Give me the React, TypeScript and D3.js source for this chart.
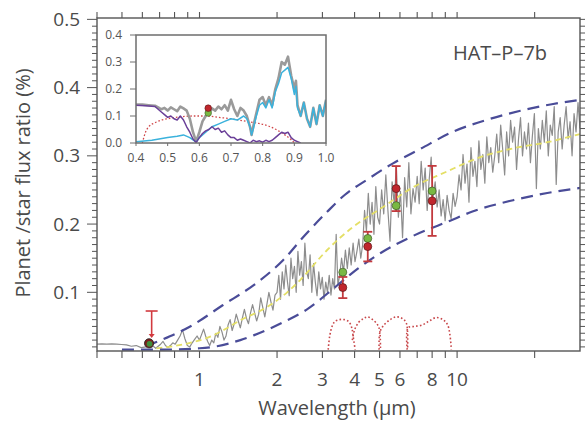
import React from "react";
import * as d3 from "d3";

const W = 587;
const H = 429;

// ---------- model emission spectrum (planet/star flux ratio, %) ----------
// Each band is sampled on a uniform log-wavelength grid between its limits.
const specVisRange = [0.4, 0.62];
const specVis = [0.024, 0.0245, 0.024, 0.0245, 0.024, 0.0235, 0.023, 0.021, 0.022, 0.019];

const specRedRange = [0.62, 1.0];
const specRed = [0.02, 0.022, 0.019, 0.021, 0.018, 0.021, 0.024, 0.028, 0.022, 0.019, 0.022,
  0.026, 0.024, 0.03, 0.036, 0.045, 0.032, 0.022, 0.02, 0.026, 0.031, 0.036];

const specNirRange = [1.0, 2.0];
const specNir = [0.03, 0.038, 0.046, 0.036, 0.028, 0.022, 0.03, 0.026, 0.04, 0.034, 0.05, 0.042,
  0.03, 0.036, 0.052, 0.06, 0.044, 0.054, 0.068, 0.058, 0.048, 0.062, 0.075, 0.062, 0.054, 0.07,
  0.082, 0.07, 0.058, 0.068, 0.092, 0.078, 0.064, 0.082, 0.1, 0.086, 0.074, 0.096];

const specKRange = [2.0, 3.5];
const specK = [0.1, 0.125, 0.09, 0.13, 0.105, 0.14, 0.115, 0.095, 0.15, 0.12, 0.138, 0.1, 0.16,
  0.125, 0.145, 0.11, 0.172, 0.13, 0.12, 0.155, 0.1, 0.142, 0.115, 0.095, 0.13, 0.105, 0.122,
  0.09, 0.115, 0.1, 0.125, 0.096, 0.12, 0.105, 0.185, 0.11];

const specLRange = [3.5, 4.3];
const specL = [0.125, 0.15, 0.13, 0.162, 0.135, 0.165, 0.14, 0.172, 0.145, 0.16, 0.178, 0.15];

const specMRange = [4.3, 5.0];
const specM = [0.17, 0.22, 0.19, 0.245, 0.2, 0.232, 0.185, 0.255, 0.21];

const specMidRange = [5.0, 7.0];
const specMid = [0.2, 0.25, 0.215, 0.272, 0.22, 0.175, 0.262, 0.23, 0.285, 0.21, 0.248, 0.18,
  0.268, 0.225, 0.29, 0.215, 0.252, 0.232];

const specNRange = [7.0, 10.0];
const specN = [0.27, 0.23, 0.292, 0.25, 0.282, 0.22, 0.265, 0.298, 0.24, 0.262, 0.225, 0.25,
  0.212, 0.236, 0.205, 0.242, 0.22, 0.208, 0.245, 0.226];

const specFarRange = [10.0, 14.0];
const specFar = [0.24, 0.272, 0.25, 0.302, 0.26, 0.288, 0.232, 0.312, 0.27, 0.292, 0.255, 0.322,
  0.28, 0.302, 0.26, 0.328, 0.29, 0.312, 0.276];

const specTailRange = [14.0, 30.0];
const specTail = [0.3, 0.332, 0.29, 0.345, 0.31, 0.272, 0.335, 0.3, 0.352, 0.32, 0.342, 0.28,
  0.325, 0.356, 0.3, 0.335, 0.31, 0.348, 0.29, 0.33, 0.362, 0.252, 0.34, 0.31, 0.352, 0.32,
  0.366, 0.3, 0.345, 0.33, 0.372, 0.258, 0.335, 0.356, 0.31, 0.345, 0.372, 0.325, 0.35, 0.3,
  0.362, 0.335, 0.378, 0.34];

// ---------- blackbody and bounding models ----------
const blackbody = [[0.68, 0.018], [0.92, 0.026], [1.1, 0.035], [1.23, 0.044], [1.44, 0.059],
  [1.83, 0.0785], [2.19, 0.1], [2.46, 0.118], [3.13, 0.162], [3.95, 0.196], [5.16, 0.225],
  [6.75, 0.254], [9.0, 0.276], [12.3, 0.298], [16.5, 0.311], [22.4, 0.32], [30, 0.332]];

const upperModel = [[0.62, 0.021], [0.72, 0.031], [0.92, 0.05], [1.23, 0.081], [1.67, 0.114],
  [2.11, 0.147], [2.57, 0.184], [3.13, 0.218], [3.67, 0.243], [4.47, 0.265], [5.64, 0.289],
  [7.18, 0.31], [9.6, 0.335], [13.1, 0.353], [17.6, 0.366], [23.6, 0.376], [30, 0.382]];

const lowerModel = [[0.5, 0.016], [0.7, 0.016], [1.0, 0.018], [1.17, 0.021], [1.44, 0.03],
  [1.83, 0.045], [2.11, 0.056], [2.64, 0.076], [3.42, 0.11], [4.13, 0.135], [5.07, 0.158],
  [6.69, 0.182], [9.4, 0.205], [11.4, 0.218], [16.5, 0.235], [22.4, 0.2455], [30, 0.253]];

// ---------- IRAC channel response (drawn in flux-ratio units) ----------
const irac1 = [[3.16, 0.016], [3.2, 0.035], [3.27, 0.05], [3.35, 0.057], [3.5, 0.06], [3.65, 0.06],
  [3.8, 0.057], [3.9, 0.048], [3.95, 0.035], [4.02, 0.016]];
const irac2 = [[3.92, 0.03], [4.0, 0.045], [4.15, 0.056], [4.35, 0.062], [4.5, 0.064], [4.7, 0.06],
  [4.9, 0.053], [5.0, 0.045], [5.04, 0.016]];
const irac3 = [[4.98, 0.016], [5.02, 0.042], [5.2, 0.052], [5.5, 0.06], [5.8, 0.064], [6.1, 0.062],
  [6.35, 0.055], [6.42, 0.016]];
const irac4 = [[6.4, 0.016], [6.45, 0.048], [6.8, 0.05], [7.3, 0.052], [7.8, 0.058], [8.3, 0.063],
  [8.8, 0.06], [9.2, 0.052], [9.5, 0.016]];

// ---------- measurements ----------
const obsWave = [3.6, 4.5, 5.8, 8.0];
const obsValue = [0.107, 0.167, 0.252, 0.234];
const obsError = [0.0155, 0.0217, 0.033, 0.0513];
const modelValue = [0.1295, 0.179, 0.227, 0.2485];

const keplerWave = 0.637;
const keplerValue = 0.0253;
const limitWave = 0.652;
const limitValue = 0.0726;
const limitArrowTip = 0.033;

// ---------- inset (optical detail) ----------
const insetTotal = [[0.40, 0.142], [0.42, 0.142], [0.44, 0.14], [0.46, 0.138], [0.47, 0.132],
  [0.48, 0.125], [0.49, 0.13], [0.50, 0.12], [0.51, 0.132], [0.52, 0.125], [0.53, 0.118],
  [0.54, 0.135], [0.55, 0.128], [0.56, 0.12], [0.57, 0.09], [0.58, 0.04], [0.59, 0.005],
  [0.60, 0.04], [0.61, 0.08], [0.62, 0.1], [0.63, 0.11], [0.64, 0.128], [0.65, 0.12],
  [0.66, 0.135], [0.67, 0.125], [0.68, 0.14], [0.69, 0.12], [0.70, 0.16], [0.71, 0.125],
  [0.72, 0.1], [0.73, 0.13], [0.74, 0.12], [0.75, 0.1], [0.76, 0.06], [0.765, 0.03], [0.77, 0.06],
  [0.78, 0.11], [0.79, 0.16], [0.80, 0.17], [0.81, 0.14], [0.82, 0.17], [0.83, 0.14], [0.84, 0.2],
  [0.85, 0.24], [0.86, 0.3], [0.87, 0.29], [0.88, 0.32], [0.89, 0.25], [0.90, 0.2], [0.905, 0.23],
  [0.91, 0.14], [0.92, 0.1], [0.93, 0.15], [0.94, 0.09], [0.95, 0.06], [0.96, 0.13], [0.97, 0.07],
  [0.98, 0.14], [0.99, 0.1], [1.0, 0.16]];

const insetThermal = [[0.40, 0.005], [0.45, 0.01], [0.5, 0.02], [0.53, 0.025], [0.55, 0.03],
  [0.57, 0.02], [0.59, 0.003], [0.6, 0.02], [0.62, 0.04], [0.64, 0.06], [0.66, 0.07], [0.68, 0.08],
  [0.7, 0.09], [0.72, 0.085], [0.74, 0.1], [0.75, 0.09], [0.76, 0.06], [0.765, 0.03], [0.77, 0.05],
  [0.78, 0.1], [0.79, 0.14], [0.80, 0.15], [0.81, 0.13], [0.82, 0.16], [0.83, 0.13], [0.84, 0.19],
  [0.85, 0.22], [0.86, 0.26], [0.87, 0.27], [0.88, 0.28], [0.89, 0.24], [0.90, 0.18], [0.905, 0.21],
  [0.91, 0.13], [0.92, 0.1], [0.93, 0.15], [0.94, 0.09], [0.95, 0.06], [0.96, 0.13], [0.97, 0.07],
  [0.98, 0.14], [0.99, 0.1], [1.0, 0.16]];

const insetReflected = [[0.40, 0.14], [0.43, 0.138], [0.46, 0.135], [0.47, 0.125], [0.48, 0.115],
  [0.49, 0.105], [0.5, 0.095], [0.51, 0.1], [0.52, 0.09], [0.53, 0.085], [0.54, 0.1], [0.55, 0.085],
  [0.56, 0.06], [0.57, 0.04], [0.58, 0.015], [0.59, 0.002], [0.6, 0.02], [0.61, 0.035], [0.62, 0.045],
  [0.63, 0.05], [0.64, 0.06], [0.65, 0.05], [0.66, 0.055], [0.67, 0.04], [0.68, 0.045], [0.69, 0.03],
  [0.7, 0.02], [0.71, 0.02], [0.72, 0.01], [0.73, 0.015], [0.74, 0.01], [0.75, 0.005], [0.76, 0.0],
  [0.77, 0.01], [0.78, 0.005], [0.79, 0.008], [0.8, 0.003], [0.81, 0.01], [0.82, 0.005], [0.83, 0.01],
  [0.84, 0.02], [0.85, 0.03], [0.86, 0.04], [0.87, 0.035], [0.88, 0.04], [0.89, 0.02], [0.9, 0.01],
  [0.91, 0.005], [0.92, 0.0]];

const insetKeplerBand = [[0.42, 0.0], [0.43, 0.04], [0.44, 0.06], [0.46, 0.075], [0.48, 0.085],
  [0.5, 0.09], [0.54, 0.097], [0.58, 0.1], [0.62, 0.1], [0.66, 0.095], [0.7, 0.09], [0.74, 0.082],
  [0.78, 0.074], [0.82, 0.062], [0.85, 0.045], [0.87, 0.03], [0.89, 0.012], [0.9, 0.0]];

const insetPointWave = 0.628;
const insetObs = 0.129;
const insetModel = 0.111;

const xTickValues = [0.4, 0.5, 0.6, 0.7, 0.8, 0.9, 1, 2, 3, 4, 5, 6, 7, 8, 9, 10, 20];
const xTickLabels = [1, 2, 3, 4, 5, 6, 8, 10];
const yTickLabels = [0.1, 0.2, 0.3, 0.4, 0.5];
const insetXTicks = [0.4, 0.5, 0.6, 0.7, 0.8, 0.9, 1.0];
const insetYTicks = [0.0, 0.1, 0.2, 0.3, 0.4];

type P = [number, number];

function gridBand(range: number[], values: number[], inclusive: boolean): P[] {
  const [a, b] = range;
  const n = inclusive ? values.length - 1 : values.length;
  return values.map((v, i) => [a * Math.pow(b / a, i / n), v] as P);
}

const FONT = "'Open Sans', 'DejaVu Sans', sans-serif";
const INK = "#4a4a4a";

export default function App() {
  const left = 97, right = 580, top = 18, bottom = 351;
  const x = d3.scaleLog().domain([0.4, 30]).range([left, right]);
  const y = d3.scaleLinear().domain([0.014, 0.502]).range([bottom, top]);

  const spectrum: P[] = [
    ...gridBand(specVisRange, specVis, false),
    ...gridBand(specRedRange, specRed, false),
    ...gridBand(specNirRange, specNir, false),
    ...gridBand(specKRange, specK, false),
    ...gridBand(specLRange, specL, false),
    ...gridBand(specMRange, specM, false),
    ...gridBand(specMidRange, specMid, false),
    ...gridBand(specNRange, specN, false),
    ...gridBand(specFarRange, specFar, false),
    ...gridBand(specTailRange, specTail, true),
  ];

  const straight = d3.line<P>().x((d) => x(d[0])).y((d) => y(d[1]));
  const smooth = d3.line<P>().x((d) => x(d[0])).y((d) => y(d[1])).curve(d3.curveMonotoneX);
  const band = d3.line<P>().x((d) => x(d[0])).y((d) => y(d[1])).curve(d3.curveCatmullRom);

  // inset scales
  const iL = 136, iR = 326, iT = 35, iB = 143;
  const ix = d3.scaleLinear().domain([0.4, 1.0]).range([iL, iR]);
  const iy = d3.scaleLinear().domain([0, 0.4]).range([iB, iT]);
  const iline = d3.line<P>().x((d) => ix(d[0])).y((d) => iy(d[1]));
  const ibandLine = d3.line<P>().x((d) => ix(d[0])).y((d) => iy(d[1])).curve(d3.curveMonotoneX);

  const minorY = d3.range(2, 51).map((i) => i / 100);

  const red = "#c0262d";
  const green = "#79b843";
  const blue = "#4a4c98";

  return (
    <svg
      width={W}
      height={H}
      viewBox={`0 0 ${W} ${H}`}
      style={{ position: "fixed", left: 0, top: 0, background: "#fff" }}
      fontFamily={FONT}
    >
      <defs>
        <clipPath id="plotArea">
          <rect x={left} y={top} width={right - left} height={bottom - top} />
        </clipPath>
        <clipPath id="insetArea">
          <rect x={iL} y={iT} width={iR - iL} height={iB - iT} />
        </clipPath>
      </defs>
      <rect x={0} y={0} width={W} height={H} fill="#fff" />

      <g clipPath="url(#plotArea)">
        {/* model spectrum */}
        <path d={straight(spectrum) || ""} fill="none" stroke="#8d8d8d" strokeWidth={1.2} strokeLinejoin="round" />
        {/* blackbody */}
        <path d={smooth(blackbody as P[]) || ""} fill="none" stroke="#e4df66" strokeWidth={1.8} strokeDasharray="6 4" />
        {/* bounding models */}
        <path d={smooth(upperModel as P[]) || ""} fill="none" stroke={blue} strokeWidth={2.2} strokeDasharray="12 7" />
        <path d={smooth(lowerModel as P[]) || ""} fill="none" stroke={blue} strokeWidth={2.2} strokeDasharray="12 7" />
        {/* IRAC response curves */}
        {[irac1, irac2, irac3, irac4].map((b, i) => (
          <path key={i} d={band(b as P[]) || ""} fill="none" stroke="#c8474a" strokeWidth={1.6} strokeDasharray="1.6 2.2" />
        ))}
      </g>

      {/* Spitzer eclipse depths with error bars */}
      {obsWave.map((w, i) => {
        const cx = x(w);
        const y0 = y(obsValue[i] - obsError[i]);
        const y1 = y(obsValue[i] + obsError[i]);
        return (
          <g key={"eb" + i} stroke="#c23a3e" strokeWidth={1.8}>
            <line x1={cx} x2={cx} y1={y0} y2={y1} />
            <line x1={cx - 4.5} x2={cx + 4.5} y1={y0} y2={y0} />
            <line x1={cx - 4.5} x2={cx + 4.5} y1={y1} y2={y1} />
          </g>
        );
      })}
      {obsWave.map((w, i) => (
        <circle key={"m" + i} cx={x(w)} cy={y(modelValue[i])} r={4} fill={green} stroke="#3d5a2a" strokeWidth={0.7} />
      ))}
      {obsWave.map((w, i) => (
        <circle key={"o" + i} cx={x(w)} cy={y(obsValue[i])} r={4} fill={red} stroke="#5a1a1a" strokeWidth={0.7} />
      ))}

      {/* optical eclipse and upper limit */}
      <g stroke="#d23a3f" strokeWidth={1.6} fill="none">
        <line x1={x(limitWave)} x2={x(limitWave)} y1={y(limitValue)} y2={y(limitArrowTip) - 3} />
        <line x1={x(limitWave) - 6} x2={x(limitWave) + 6} y1={y(limitValue)} y2={y(limitValue)} />
      </g>
      <path
        d={`M${x(limitWave) - 3},${y(limitArrowTip) - 4} L${x(limitWave) + 3},${y(limitArrowTip) - 4} L${x(limitWave)},${y(limitArrowTip)} Z`}
        fill="#d23a3f"
      />
      <circle cx={x(keplerWave)} cy={y(keplerValue)} r={4.6} fill="#7a1f1c" stroke="#222" strokeWidth={0.8} />
      <circle cx={x(keplerWave) + 0.5} cy={y(keplerValue) + 0.5} r={2.9} fill="#3f8f3a" />

      {/* frame */}
      <rect x={left} y={top} width={right - left} height={bottom - top} fill="none" stroke="#555" strokeWidth={1.4} />

      {/* bottom and top ticks */}
      {xTickValues.map((t) => (
        <g key={"xt" + t} stroke="#555" strokeWidth={1.1}>
          <line x1={x(t)} x2={x(t)} y1={bottom} y2={bottom + 7} />
          <line x1={x(t)} x2={x(t)} y1={top} y2={top - 6} />
        </g>
      ))}
      {xTickLabels.map((t) => (
        <text key={"xl" + t} x={x(t)} y={386} textAnchor="middle" fontSize={19} fill={INK}>
          {t}
        </text>
      ))}

      {/* left and right ticks */}
      {minorY.map((v, i) => {
        const major = Math.round(v * 100) % 10 === 0;
        return (
          <g key={"yt" + i} stroke="#555" strokeWidth={1}>
            <line x1={left} x2={left - (major ? 10 : 5)} y1={y(v)} y2={y(v)} />
            <line x1={right} x2={right + 5} y1={y(v)} y2={y(v)} />
          </g>
        );
      })}
      {yTickLabels.map((t) => (
        <text key={"yl" + t} x={80} y={y(t) + 6.5} textAnchor="end" fontSize={19} fill={INK}>
          {t.toFixed(1)}
        </text>
      ))}

      <text x={337} y={415} textAnchor="middle" fontSize={20} fill={INK}>
        Wavelength (μm)
      </text>
      <text transform="translate(30,183) rotate(-90)" textAnchor="middle" fontSize={20} fill={INK}>
        Planet /star flux ratio (%)
      </text>
      <text x={500} y={60} textAnchor="middle" fontSize={20} fill={INK}>
        HAT–P–7b
      </text>

      {/* inset */}
      <rect x={iL} y={iT} width={iR - iL} height={iB - iT} fill="#fff" />
      <g clipPath="url(#insetArea)">
        <path d={ibandLine(insetKeplerBand as P[]) || ""} fill="none" stroke="#d0474a" strokeWidth={1.3} strokeDasharray="1.6 2" />
        <path d={iline(insetTotal as P[]) || ""} fill="none" stroke="#9a9a9a" strokeWidth={2.6} strokeLinejoin="round" />
        <path d={iline(insetThermal as P[]) || ""} fill="none" stroke="#3bb2dc" strokeWidth={1.5} strokeLinejoin="round" />
        <path d={iline(insetReflected as P[]) || ""} fill="none" stroke="#6a3f98" strokeWidth={1.5} strokeLinejoin="round" />
        <circle cx={ix(insetPointWave)} cy={iy(insetModel)} r={3.3} fill={green} stroke="#3d5a2a" strokeWidth={0.6} />
        <circle cx={ix(insetPointWave)} cy={iy(insetObs)} r={3.3} fill={red} stroke="#5a1a1a" strokeWidth={0.6} />
      </g>
      <rect x={iL} y={iT} width={iR - iL} height={iB - iT} fill="none" stroke="#6e6e6e" strokeWidth={1.5} />
      {insetYTicks.map((t) => (
        <g key={"iy" + t}>
          <line x1={iL - 6} x2={iL} y1={iy(t)} y2={iy(t)} stroke="#6e6e6e" strokeWidth={1} />
          <text x={122} y={iy(t) + 4} textAnchor="end" fontSize={12} fill="#555">
            {t.toFixed(1)}
          </text>
        </g>
      ))}
      {insetXTicks.map((t) => (
        <g key={"ix" + t}>
          <line x1={ix(t)} x2={ix(t)} y1={iB} y2={iB + 3} stroke="#6e6e6e" strokeWidth={1} />
          <text x={ix(t)} y={161.5} textAnchor="middle" fontSize={12} fill="#555">
            {t.toFixed(1)}
          </text>
        </g>
      ))}
    </svg>
  );
}
